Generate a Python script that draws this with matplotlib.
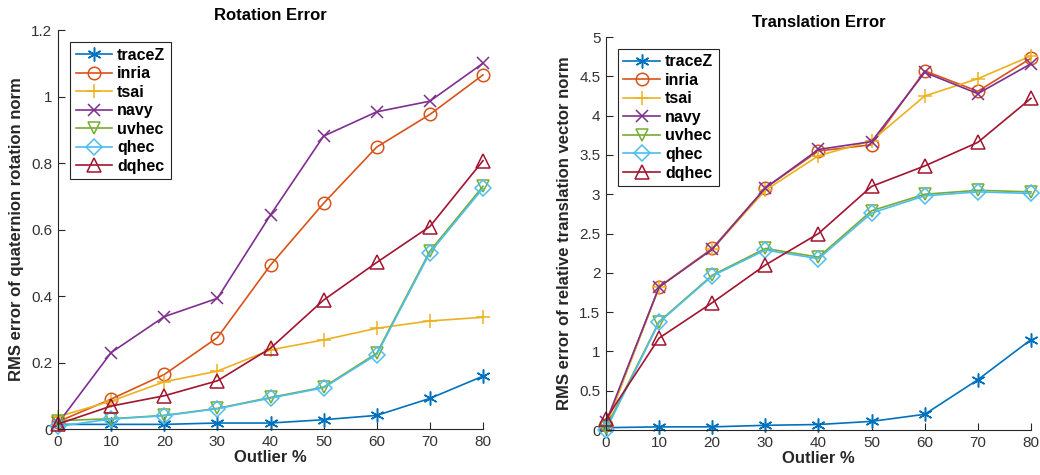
import numpy as np
import matplotlib
matplotlib.use('Agg')
import matplotlib.pyplot as plt
from matplotlib.ticker import FuncFormatter

plt.rcParams['font.family'] = ['Liberation Sans', 'DejaVu Sans']

outlier = [0, 10, 20, 30, 40, 50, 60, 70, 80]
methods = ['traceZ', 'inria', 'tsai', 'navy', 'uvhec', 'qhec', 'dqhec']

# rotation error
rot_tracez = [0.014, 0.014, 0.014, 0.018, 0.018, 0.028, 0.041, 0.092, 0.159]
rot_inria = [0.022, 0.090, 0.164, 0.275, 0.493, 0.679, 0.848, 0.946, 1.065]
rot_tsai = [0.037, 0.084, 0.142, 0.174, 0.238, 0.268, 0.303, 0.325, 0.336]
rot_navy = [0.017, 0.230, 0.338, 0.393, 0.644, 0.881, 0.954, 0.986, 1.100]
rot_uvhec = [0.025, 0.031, 0.041, 0.062, 0.095, 0.126, 0.228, 0.535, 0.730]
rot_qhec = [0.008, 0.030, 0.040, 0.061, 0.093, 0.124, 0.224, 0.530, 0.724]
rot_dqhec = [0.015, 0.069, 0.100, 0.145, 0.243, 0.388, 0.501, 0.609, 0.807]

# translation error
tr_tracez = [0.03, 0.04, 0.04, 0.06, 0.07, 0.11, 0.20, 0.64, 1.15]
tr_inria = [0.07, 1.82, 2.31, 3.08, 3.55, 3.63, 4.57, 4.31, 4.73]
tr_tsai = [0.05, 1.82, 2.30, 3.05, 3.49, 3.68, 4.25, 4.47, 4.76]
tr_navy = [0.10, 1.82, 2.30, 3.08, 3.57, 3.67, 4.55, 4.28, 4.66]
tr_uvhec = [0.03, 1.38, 1.97, 2.31, 2.20, 2.79, 3.00, 3.05, 3.03]
tr_qhec = [0.00, 1.37, 1.96, 2.29, 2.18, 2.76, 2.98, 3.03, 3.01]
tr_dqhec = [0.14, 1.17, 1.62, 2.10, 2.50, 3.10, 3.36, 3.66, 4.22]

colors = ['#0072BD', '#D95319', '#EDB120', '#7E2F8E', '#77AC30', '#4DBEEE', '#A2142F']
markers = [(6, 2, 0), 'o', '+', 'x', 'v', 'D', '^']
msizes = [10, 9, 10, 9, 9, 8, 10]

rot_data = [rot_tracez, rot_inria, rot_tsai, rot_navy, rot_uvhec, rot_qhec, rot_dqhec]
tr_data = [tr_tracez, tr_inria, tr_tsai, tr_navy, tr_uvhec, tr_qhec, tr_dqhec]

fig = plt.figure(figsize=(10.4, 4.75), dpi=100)
ax1 = fig.add_axes([0.0558, 0.0968, 0.4086, 0.84])
ax2 = fig.add_axes([0.5827, 0.0947, 0.4086, 0.8273])

fmt = FuncFormatter(lambda v, p: '%g' % round(v, 2))

def draw(ax, data, ymax, ystep, title, ylabel):
    for name, vals, c, m, ms in zip(methods, data, colors, markers, msizes):
        ax.plot(outlier, vals, color=c, marker=m, markersize=ms, markerfacecolor='none',
                markeredgecolor=c, markeredgewidth=1.1, linewidth=1.2, label=name, clip_on=False)
    ax.set_xlim(0, 80)
    ax.set_ylim(0, ymax)
    ax.set_xticks(outlier)
    ax.set_yticks(np.arange(0, ymax + ystep / 2, ystep))
    ax.yaxis.set_major_formatter(fmt)
    ax.spines['top'].set_visible(False)
    ax.spines['right'].set_visible(False)
    for s in ['left', 'bottom']:
        ax.spines[s].set_color('#262626')
        ax.spines[s].set_linewidth(0.8)
    ax.tick_params(direction='in', length=5, width=0.8, colors='#262626', labelsize=11,
                   labelcolor='#333333', pad=4)
    ax.set_title(title, fontsize=12, fontweight='bold', pad=7)
    ax.set_xlabel('Outlier %', fontsize=12, fontweight='bold', color='#262626', labelpad=1)
    ax.set_ylabel(ylabel, fontsize=12, fontweight='bold', color='#262626', labelpad=5)
    leg = ax.legend(loc='upper left', bbox_to_anchor=(0.028, 0.97),
                    prop={'weight': 'bold', 'size': 11.5}, handlelength=2.3, handletextpad=0.3,
                    labelspacing=0.22, borderpad=0.35, fancybox=False, framealpha=1,
                    edgecolor='#262626', borderaxespad=0)
    leg.get_frame().set_linewidth(0.8)

draw(ax1, rot_data, 1.2, 0.2, 'Rotation Error', 'RMS error of quaternion rotation norm')
draw(ax2, tr_data, 5, 0.5, 'Translation Error', 'RMS error of relative translation vector norm')

fig.savefig('out.png', dpi=100)
